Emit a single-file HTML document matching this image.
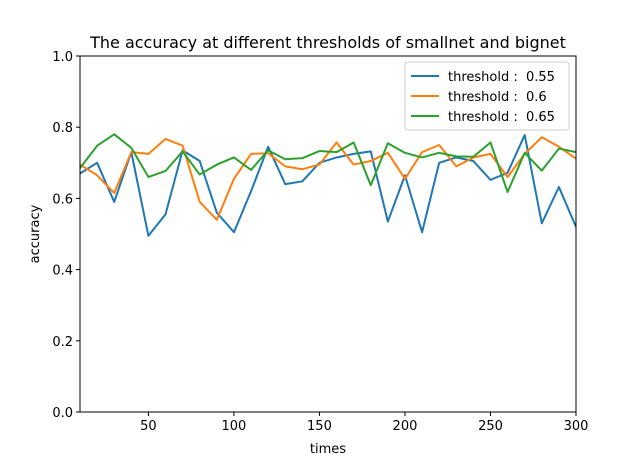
<!DOCTYPE html>
<html><head><meta charset="utf-8"><style>
body{margin:0;background:#fff;font-family:"Liberation Sans","DejaVu Sans",sans-serif}
svg text{font-family:"DejaVu Sans","Liberation Sans",sans-serif;white-space:pre}
</style></head><body>
<svg id="chart" width="640" height="463" xmlns="http://www.w3.org/2000/svg">
<rect width="640" height="463" fill="#fff"/>
<text x="328" y="48" font-size="16" text-anchor="middle">The accuracy at different thresholds of smallnet and bignet</text>
<g id="plot"></g>
<text x="328" y="453" font-size="13" text-anchor="middle">times</text>
<text transform="translate(39,234) rotate(-90)" font-size="13" text-anchor="middle">accuracy</text>
</svg>
<script>
const times=[10,20,30,40,50,60,70,80,90,100,110,120,130,140,150,160,170,180,190,200,210,220,230,240,250,260,270,280,290,300];
const s055=[.67,.70,.59,.73,.495,.555,.735,.705,.56,.505,.62,.745,.64,.648,.70,.715,.725,.732,.535,.665,.505,.70,.715,.705,.652,.672,.778,.53,.632,.52];
const s06=[.695,.665,.615,.73,.725,.767,.748,.59,.54,.655,.725,.727,.69,.682,.695,.757,.695,.705,.728,.655,.73,.75,.69,.715,.725,.66,.725,.772,.745,.712];
const s065=[.685,.748,.78,.742,.66,.677,.732,.667,.695,.715,.68,.735,.71,.713,.733,.73,.757,.637,.755,.728,.715,.728,.718,.717,.757,.618,.728,.678,.74,.73];
const xTicks=[50,100,150,200,250,300];
const yTicks=[0.0,0.2,0.4,0.6,0.8,1.0];
const labels=["threshold :  0.55","threshold :  0.6","threshold :  0.65"];
const colors=["#1f77b4","#ff7f0e","#2ca02c"];
const L=80,R=576,T=56,B=412;
const xs=v=>L+(v-10)/(300-10)*(R-L);
const ys=v=>B-v*(B-T);
const NS="http://www.w3.org/2000/svg";
const g=document.getElementById('plot');
function mk(t,a){const e=document.createElementNS(NS,t);for(const k in a)e.setAttribute(k,a[k]);g.appendChild(e);return e;}
xTicks.forEach(v=>{
 const l=mk('line',{x1:xs(v),x2:xs(v),y1:B,y2:B+4,stroke:'#000'});
 
 
 const t=mk('text',{x:xs(v),y:B+18,'font-size':13,'text-anchor':'middle'});t.textContent=v;
 
 
});
yTicks.forEach(v=>{
 const l=mk('line',{x1:L-4,x2:L,y1:ys(v),y2:ys(v),stroke:'#000'});
 
 
 const t=mk('text',{x:L-7,y:ys(v)+5,'font-size':13,'text-anchor':'end'});t.textContent=v.toFixed(1);
 
 
});
[s055,s06,s065].forEach((s,i)=>{
 const p=mk('polyline',{points:s.map((v,j)=>xs(times[j])+','+ys(v)).join(' '),fill:'none',stroke:colors[i],'stroke-width':2,'stroke-linejoin':'round'});
 
 
});
const fr=mk('rect',{x:L,y:T,width:R-L,height:B-T,fill:'none',stroke:'#000','stroke-width':1});


const lg=mk('rect',{x:405,y:62,width:164,height:68,fill:'#fff',stroke:'#ccc',rx:3});


labels.forEach((lab,i)=>{
 const y=76+i*20;
 const l=mk('line',{x1:411,x2:439,y1:y,y2:y,stroke:colors[i],'stroke-width':2});
 
 
 const t=mk('text',{x:448,y:y+5,'font-size':13});t.textContent=lab;
 
 
});
</script>
</body></html>
